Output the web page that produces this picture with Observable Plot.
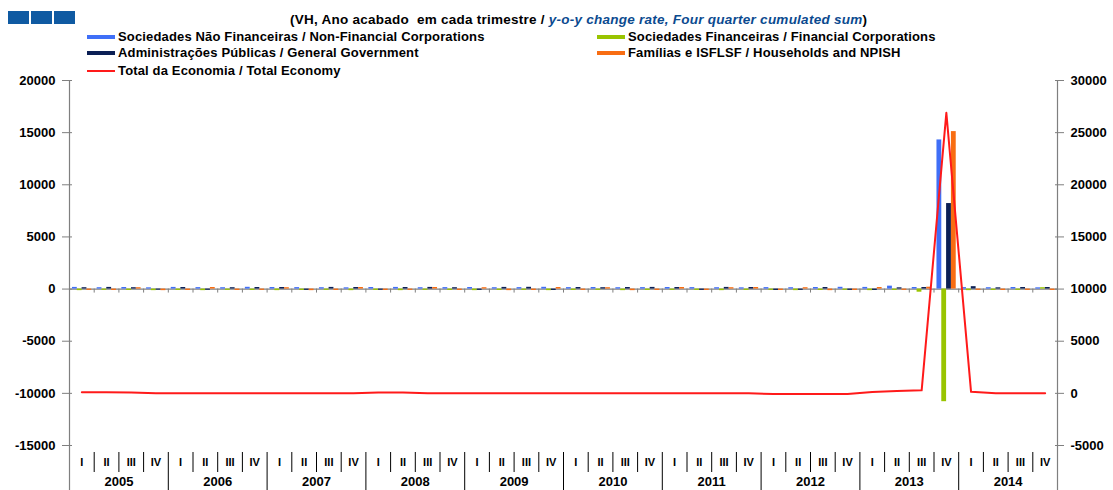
<!DOCTYPE html>
<html>
<head>
<meta charset="utf-8">
<script src="https://cdn.jsdelivr.net/npm/d3@7"></script>
<script src="https://cdn.jsdelivr.net/npm/@observablehq/plot@0.6"></script>
<style>
  html, body { margin: 0; padding: 0; background: #fff; }
  body { width: 1113px; height: 490px; position: relative; overflow: hidden;
         font-family: "Liberation Sans", Arial, sans-serif; font-weight: bold; color: #000; }
  #chart { position: absolute; left: 0; top: 0; }
  .logo { position: absolute; top: 11px; height: 13px; width: 21px; background: #0f5aa2; }
  #title { position: absolute; top: 12px; left: 290px; font-size: 13.5px; white-space: nowrap; letter-spacing: 0.25px; }
  #title i { color: #0b4a8f; }
  .leg { position: absolute; font-size: 13px; white-space: nowrap; letter-spacing: 0.15px; }
  .leg span.sw { display: inline-block; width: 28px; height: 4px; vertical-align: middle; margin-right: 3px; position: relative; top: -1px; }
</style>
</head>
<body>
<div class="logo" style="left:8px"></div>
<div class="logo" style="left:31px"></div>
<div class="logo" style="left:54px"></div>
<div id="title">(VH, Ano acabado&nbsp; em cada trimestre / <i>y-o-y change rate, Four quarter cumulated sum</i>)</div>
<div id="legend"></div>
<div id="chart"></div>
<script>
// ---- Data ----
const years = ["2005","2006","2007","2008","2009","2010","2011","2012","2013","2014"];
const quarterLabels = ["I","II","III","IV"];

const seriesNames = [
  "Sociedades Não Financeiras / Non-Financial Corporations",
  "Sociedades Financeiras / Financial Corporations",
  "Administrações Públicas / General Government",
  "Famílias e ISFLSF / Households and NPISH"
];
const lineName = "Total da Economia / Total Economy";
const seriesColors = ["#3f6ff7", "#99c400", "#0b1f55", "#f86d12"];
const lineColor = "#ff1a1a";

// left axis values, 40 quarters 2005 I .. 2014 IV
const nonFinancial = [160, 130, 150, 120, 160, 140, 130, 170, 150, 140, 130, 120, 150, 160, 130, 140,
  150, 130, 140, 170, 140, 150, 130, 140, 150, 140, 130, 120, 140, 130, 150, 170,
  160, 280, 150, 14300, 140, 130, 150, 120];
const financial = [-150, -120, -130, -150, -130, -150, -120, -130, -150, -130, -120, -150, -130, -150, -120, -130,
  -150, -130, -120, -150, -130, -120, -150, -130, -120, -130, -150, -130, -120, -150, -130, -120,
  -150, -130, -300, -10800, -150, -130, -120, 130];
const government = [130, 160, 130, -100, 150, -110, 130, 150, 150, -120, 160, 150, -110, 150, 160, 130,
  -120, 160, 170, -130, 150, 130, 150, 160, 150, -120, 160, 150, -130, -120, 150, -120,
  -130, 120, 150, 8200, 230, 120, 150, 150];
const households = [-120, -130, 130, -150, -130, 150, -130, -120, 130, -150, -130, 150, -130, -120, 150, -130,
  130, -150, -130, 150, -120, 130, -150, -130, 150, -130, 130, 150, -130, 130, -150, -130,
  150, -120, 180, 15100, -120, -130, -120, -130];
// right axis values (Total Economy)
const totalEconomy = [100, 100, 80, 0, 0, 0, 0, 0, 0, 0, 0, 0, 80, 80, 0, 0,
  0, 0, 0, 0, 0, 0, 0, 0, 0, 0, 0, 0, -50, -50, -50, -50,
  130, 220, 290, 26900, 150, 0, 0, 0];

const leftTicks = [-15000, -10000, -5000, 0, 5000, 10000, 15000, 20000];
const rightOffset = 10000; // right axis = left axis + 10000

// ---- Build tables ----
const nQ = years.length * 4;
const allSeries = [nonFinancial, financial, government, households];
const bars = [];
allSeries.forEach((arr, k) => arr.forEach((v, i) => bars.push({q: i, k, v, name: seriesNames[k]})));
const line = totalEconomy.map((v, i) => ({q: i, v}));
const qTicks = d3.range(nQ).map(i => ({q: i, label: quarterLabels[i % 4]}));
const yTicks = years.map((y, j) => ({q: j * 4, label: y}));
const qBounds = d3.range(1, nQ).filter(i => i % 4 !== 0);
const yBounds = d3.range(4, nQ, 4);

// ---- Legend (HTML) ----
const legendItems = [
  {name: seriesNames[0], color: seriesColors[0], left: 87, top: 29},
  {name: seriesNames[1], color: seriesColors[1], left: 597, top: 29},
  {name: seriesNames[2], color: seriesColors[2], left: 87, top: 45},
  {name: seriesNames[3], color: seriesColors[3], left: 597, top: 45},
  {name: lineName, color: lineColor, left: 87, top: 63, thin: true}
];
const legend = document.getElementById("legend");
legendItems.forEach(it => {
  const d = document.createElement("div");
  d.className = "leg";
  d.style.left = it.left + "px";
  d.style.top = it.top + "px";
  const sw = document.createElement("span");
  sw.className = "sw";
  sw.style.background = it.color;
  if (it.thin) { sw.style.height = "2px"; }
  d.appendChild(sw);
  d.appendChild(document.createTextNode(it.name));
  legend.appendChild(d);
});

// ---- Chart ----
const axisColor = "#7f7f7f";
const font = {fontSize: 13, fontWeight: "bold"};
const bw = 0.195, b0 = 0.12;

const chart = Plot.plot({
  width: 1113,
  height: 490,
  marginTop: 80,
  marginBottom: 45,
  marginLeft: 69,
  marginRight: 56,
  style: {fontFamily: "'Liberation Sans', Arial, sans-serif", overflow: "visible", background: "transparent"},
  x: {type: "linear", domain: [0, nQ], axis: null},
  y: {domain: [-15000, 20000], axis: null},
  marks: [
    // zero line and small ticks
    Plot.ruleY([0], {stroke: axisColor, strokeWidth: 1.2}),
    Plot.ruleX(d3.range(1, nQ), {x: d => d, y1: 0, y2: 0, insetBottom: -4, stroke: axisColor}),
    // bars
    Plot.rectY(bars, {
      x1: d => d.q + b0 + bw * d.k,
      x2: d => d.q + b0 + bw * (d.k + 1),
      y1: 0, y2: "v",
      fill: d => seriesColors[d.k]
    }),
    // total economy line (right axis)
    Plot.line(line, {x: d => d.q + 0.5, y: d => d.v - rightOffset, stroke: lineColor, strokeWidth: 2}),
    // axis lines
    Plot.ruleX([0, nQ], {stroke: axisColor, strokeWidth: 1.2, insetBottom: -45}),
    // left axis
    Plot.axisY({anchor: "left", label: null, ticks: leftTicks, tickSize: 7, tickPadding: 7, ...font, stroke: axisColor, tickFormat: d => String(d)}),
    Plot.axisY({anchor: "left", label: null, ticks: leftTicks, tickSize: -3, tickFormat: () => "", stroke: axisColor}),
    // right axis
    Plot.axisY({anchor: "right", label: null, ticks: leftTicks, tickSize: 6, tickPadding: 7, ...font, stroke: axisColor, tickFormat: d => String(d + rightOffset)}),
    Plot.axisY({anchor: "right", label: null, ticks: leftTicks, tickSize: -3, tickFormat: () => "", stroke: axisColor}),
    // category separators below the plot
    Plot.ruleX(qBounds, {x: d => d, y1: -15000, y2: -15000, insetTop: 7, insetBottom: -27, stroke: "#000", strokeWidth: 1}),
    Plot.ruleX(yBounds, {x: d => d, y1: -15000, y2: -15000, insetTop: 7, insetBottom: -45, stroke: "#000", strokeWidth: 1}),
    // labels
    Plot.text(qTicks, {x: d => d.q + 0.5, y: -15000, text: "label", dy: 17, fontSize: 11, fontWeight: "bold"}),
    Plot.text(yTicks, {x: d => d.q + 2, y: -15000, text: "label", dy: 36, fontSize: 13, fontWeight: "bold"})
  ]
});
document.getElementById("chart").appendChild(chart);
</script>
</body>
</html>
